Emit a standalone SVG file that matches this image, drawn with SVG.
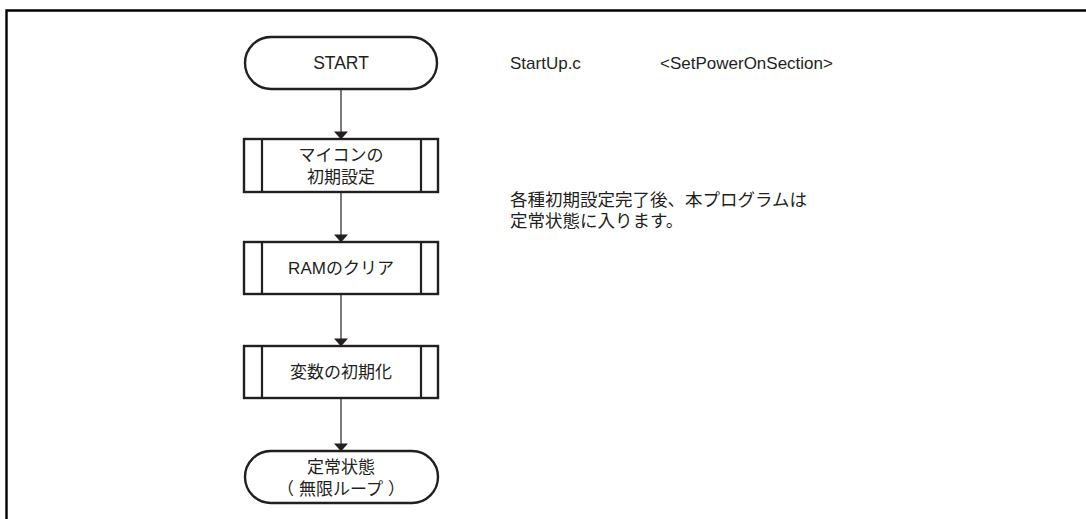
<svg xmlns="http://www.w3.org/2000/svg" width="1086" height="519" viewBox="0 0 1086 519">
<defs>
<marker id="arr" markerWidth="8" markerHeight="14" refX="7.6" refY="7" orient="auto" markerUnits="userSpaceOnUse" viewBox="0 0 8 14">
<path d="M0,0 L8,7 L0,14 Z" fill="#231f20"/>
</marker>
<style>
.shape{fill:#ffffff;stroke:#231f20;stroke-width:2.4}
.inner{stroke:#231f20;stroke-width:2.2;fill:none}
.conn{stroke:#231f20;stroke-width:1.2;fill:none}
.t{font-family:"Liberation Sans","Noto Sans CJK JP",sans-serif;font-size:17px;fill:#231f20;text-anchor:middle}
.n{font-family:"Liberation Sans","Noto Sans CJK JP",sans-serif;font-size:17px;fill:#231f20}
.nj{font-family:"Liberation Sans","Noto Sans CJK JP",sans-serif;font-size:17.5px;fill:#231f20}
.frame{fill:none;stroke:#000;stroke-width:2.4}
</style>
</defs>
<rect width="1086" height="519" fill="#ffffff"/>
<path class="frame" d="M6.5,519 L6.5,10.5 L1086,10.5"/>
<g id="connectors">
<line class="conn" x1="341" y1="89" x2="341" y2="139" marker-end="url(#arr)"/>
<line class="conn" x1="341" y1="192" x2="341" y2="242" marker-end="url(#arr)"/>
<line class="conn" x1="341" y1="294" x2="341" y2="346" marker-end="url(#arr)"/>
<line class="conn" x1="341" y1="398" x2="341" y2="451" marker-end="url(#arr)"/>
</g>
<g id="start">
<rect class="shape" x="245" y="37" width="192" height="52" rx="26" ry="26"/>
<text class="t" x="341" y="69" style="font-size:17.5px">START</text>
</g>
<g id="init-mcu">
<rect class="shape" x="244" y="139" width="194" height="53"/>
<line class="inner" x1="262" y1="139" x2="262" y2="192"/>
<line class="inner" x1="421" y1="139" x2="421" y2="192"/>
<text class="t" x="341" y="161">マイコンの</text>
<text class="t" x="341" y="183">初期設定</text>
</g>
<g id="ram-clear">
<rect class="shape" x="244" y="242" width="194" height="52"/>
<line class="inner" x1="262" y1="242" x2="262" y2="294"/>
<line class="inner" x1="421" y1="242" x2="421" y2="294"/>
<text class="t" x="341" y="274">RAMのクリア</text>
</g>
<g id="var-init">
<rect class="shape" x="244" y="346" width="194" height="52"/>
<line class="inner" x1="262" y1="346" x2="262" y2="398"/>
<line class="inner" x1="421" y1="346" x2="421" y2="398"/>
<text class="t" x="341" y="378">変数の初期化</text>
</g>
<g id="steady">
<rect class="shape" x="245" y="451" width="193" height="52" rx="26" ry="26"/>
<text class="t" x="341" y="473">定常状態</text>
<text class="t" x="341" y="495">（<tspan dx="5">無限ループ</tspan><tspan dx="5">）</tspan></text>
</g>
<g id="notes">
<text class="n" x="510" y="69">StartUp.c</text>
<text class="n" x="660" y="69">&lt;SetPowerOnSection&gt;</text>
<text class="nj" x="510" y="206">各種初期設定完了後、本プログラムは</text>
<text class="nj" x="510" y="227">定常状態に入ります。</text>
</g>
</svg>
